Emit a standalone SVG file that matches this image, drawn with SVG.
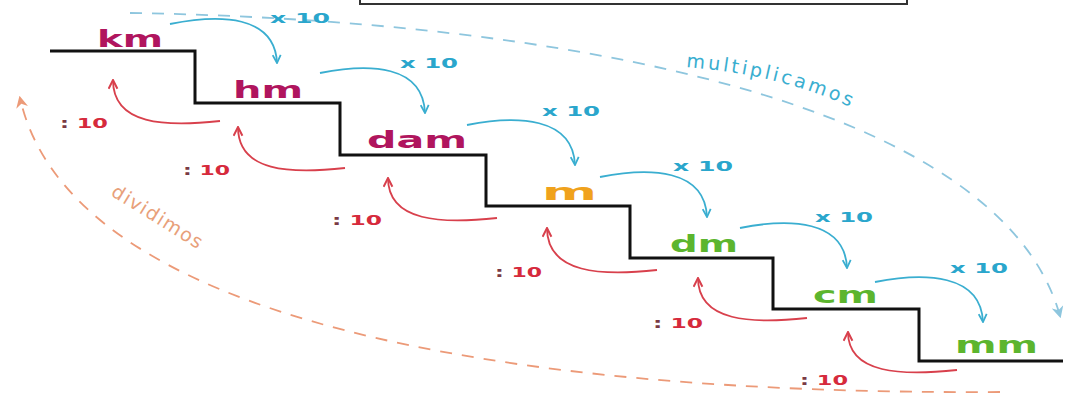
<svg xmlns="http://www.w3.org/2000/svg" width="1072" height="399" viewBox="0 0 1072 399">
<style>
.unit{font-family:"DejaVu Sans","Liberation Sans",sans-serif;font-weight:bold;font-size:23px}
.mag{fill:#b0155e}.org{fill:#f0a21c}.grn{fill:#5cb52e}
.mul{font-family:"DejaVu Sans","Liberation Sans",sans-serif;font-weight:bold;font-size:14px;fill:#2aa6cc}
.div{font-family:"DejaVu Sans","Liberation Sans",sans-serif;font-weight:bold;font-size:14px;fill:#d62a3c}
.col{fill:#7a3a44}
.barr{fill:none;stroke:#3aaed0;stroke-width:1.8}
.rarr{fill:none;stroke:#d8404c;stroke-width:1.8}
.stair{fill:none;stroke:#111;stroke-width:3}
.big{font-family:"DejaVu Sans","Liberation Sans",sans-serif;font-size:19px}
</style>
<defs>
<marker id="bh" viewBox="0 0 10 10" refX="9" refY="5" markerWidth="10" markerHeight="10" markerUnits="userSpaceOnUse" orient="auto"><path d="M1,1 L9,5 L1,9" fill="none" stroke="#3aaed0" stroke-width="1.8"/></marker>
<marker id="rh" viewBox="0 0 10 10" refX="9" refY="5" markerWidth="11" markerHeight="11" markerUnits="userSpaceOnUse" orient="auto"><path d="M1,1 L9,5 L1,9" fill="none" stroke="#d8404c" stroke-width="1.8"/></marker>
<marker id="bbig" viewBox="0 0 10 10" refX="8" refY="5" markerWidth="12" markerHeight="12" markerUnits="userSpaceOnUse" orient="auto"><path d="M0,0 L10,5 L0,10 L3,5 Z" fill="#8ec6de"/></marker>
<marker id="obig" viewBox="0 0 10 10" refX="8" refY="5" markerWidth="12" markerHeight="12" markerUnits="userSpaceOnUse" orient="auto"><path d="M0,0 L10,5 L0,10 L3,5 Z" fill="#ec9a78"/></marker>
<path id="mpath" d="M686,67 C 760,73 830,91 886,127"/>
<path id="dpath" d="M110,195 C 146,217 178,237 216,261"/>
</defs>
<rect width="1072" height="399" fill="#ffffff"/>
<rect x="360" y="-10" width="547" height="14" fill="none" stroke="#333" stroke-width="2"/>

<g id="connectors">
<path d="M130,13 C 560,20 1000,100 1060,316" fill="none" stroke="#8ec6de" stroke-width="1.8" stroke-dasharray="12,10" marker-end="url(#bbig)"/>
<path d="M1000,392 C 500,395 70,320 20,98" fill="none" stroke="#ec9a78" stroke-width="1.8" stroke-dasharray="12,10" marker-end="url(#obig)"/>
<path class="barr" marker-end="url(#bh)" d="M170,24 C 220,14 275,15 277,63"/>
<path class="barr" marker-end="url(#bh)" d="M320,73 C 370,63 423,65 425,113"/>
<path class="barr" marker-end="url(#bh)" d="M467,125 C 517,115 573,117 575,165"/>
<path class="barr" marker-end="url(#bh)" d="M600,177 C 650,167 705,169 707,217"/>
<path class="barr" marker-end="url(#bh)" d="M740,228 C 790,218 845,220 847,268"/>
<path class="barr" marker-end="url(#bh)" d="M875,282 C 925,272 981,274 983,322"/>
<path class="rarr" marker-end="url(#rh)" d="M220,121 C 165,127 113,125 113,80"/>
<path class="rarr" marker-end="url(#rh)" d="M345,168 C 290,174 238,172 238,127"/>
<path class="rarr" marker-end="url(#rh)" d="M497,218 C 442,224 388,222 388,178"/>
<path class="rarr" marker-end="url(#rh)" d="M657,270 C 602,276 547,274 547,228"/>
<path class="rarr" marker-end="url(#rh)" d="M807,318 C 752,324 698,322 698,278"/>
<path class="rarr" marker-end="url(#rh)" d="M957,370 C 902,376 848,374 848,332"/>
</g>

<g id="stairs">
<path class="stair" d="M50,51 H195 V103 H340 V155 H486 V206 H630 V258 H773 V309 H919 V361 H1063"/>
</g>

<g id="node-km"><text class="unit mag" x="97" y="47" textLength="66" lengthAdjust="spacingAndGlyphs">km</text></g>
<g id="node-hm"><text class="unit mag" x="233" y="98" textLength="70" lengthAdjust="spacingAndGlyphs">hm</text></g>
<g id="node-dam"><text class="unit mag" x="367" y="148" textLength="100" lengthAdjust="spacingAndGlyphs">dam</text></g>
<g id="node-m"><text class="unit org" x="542" y="200" textLength="55" lengthAdjust="spacingAndGlyphs">m</text></g>
<g id="node-dm"><text class="unit grn" x="670" y="252" textLength="68" lengthAdjust="spacingAndGlyphs">dm</text></g>
<g id="node-cm"><text class="unit grn" x="813" y="303" textLength="65" lengthAdjust="spacingAndGlyphs">cm</text></g>
<g id="node-mm"><text class="unit grn" x="955" y="353" textLength="83" lengthAdjust="spacingAndGlyphs">mm</text></g>

<g id="labels-mul">
<text class="mul" x="270" y="23" textLength="60" lengthAdjust="spacingAndGlyphs">x 10</text>
<text class="mul" x="400" y="68" textLength="58" lengthAdjust="spacingAndGlyphs">x 10</text>
<text class="mul" x="542" y="116" textLength="58" lengthAdjust="spacingAndGlyphs">x 10</text>
<text class="mul" x="673" y="171" textLength="60" lengthAdjust="spacingAndGlyphs">x 10</text>
<text class="mul" x="815" y="222" textLength="58" lengthAdjust="spacingAndGlyphs">x 10</text>
<text class="mul" x="950" y="273" textLength="58" lengthAdjust="spacingAndGlyphs">x 10</text>
</g>
<g id="labels-div">
<text class="div" x="60" y="128" textLength="48" lengthAdjust="spacingAndGlyphs"><tspan class="col">:</tspan> 10</text>
<text class="div" x="183" y="175" textLength="47" lengthAdjust="spacingAndGlyphs"><tspan class="col">:</tspan> 10</text>
<text class="div" x="332" y="225" textLength="50" lengthAdjust="spacingAndGlyphs"><tspan class="col">:</tspan> 10</text>
<text class="div" x="495" y="277" textLength="47" lengthAdjust="spacingAndGlyphs"><tspan class="col">:</tspan> 10</text>
<text class="div" x="653" y="328" textLength="50" lengthAdjust="spacingAndGlyphs"><tspan class="col">:</tspan> 10</text>
<text class="div" x="800" y="385" textLength="48" lengthAdjust="spacingAndGlyphs"><tspan class="col">:</tspan> 10</text>
</g>
<g id="label-multiplicamos"><text class="big" fill="#3aaed0" letter-spacing="3"><textPath href="#mpath">multiplicamos</textPath></text></g>
<g id="label-dividimos"><text class="big" fill="#e8a07a" letter-spacing="1.5"><textPath href="#dpath">dividimos</textPath></text></g>
</svg>
